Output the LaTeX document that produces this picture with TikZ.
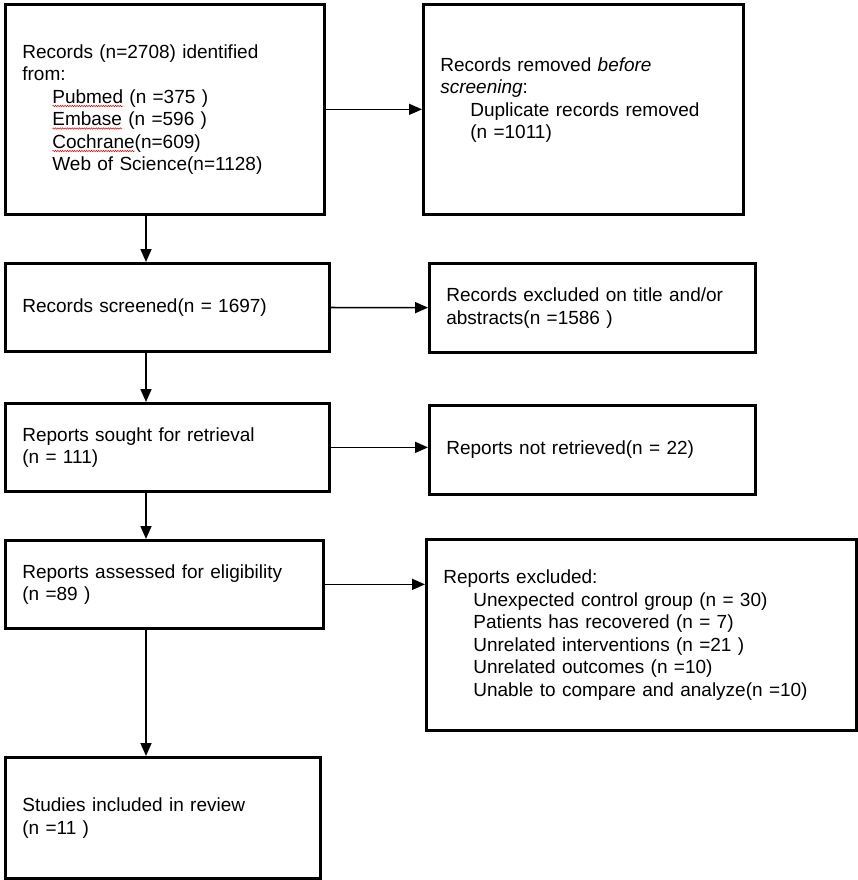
\documentclass[tikz,border=0pt]{standalone}
\usepackage{fontspec}
\setmainfont{Liberation Sans}
\usetikzlibrary{arrows.meta,decorations.pathmorphing}

% красная волнистая черта (проверка орфографии)
\newcommand{\spellmark}[1]{\setbox0\hbox{#1}\rlap{\tikz[overlay,baseline=0pt]
  \draw[red, line width=0.5pt, decorate, decoration={snake,amplitude=0.7pt,segment length=2.4pt}]
  (0pt,-3pt) -- (\wd0,-3pt);}\box0\relax}

\tikzset{
  flowbox/.style={draw=black, line width=2.7pt, anchor=north west, align=left,
    inner xsep=17pt, inner ysep=0pt, font=\fontsize{19}{22.5}\selectfont},
  flowarrow/.style={line width=1.6pt, -{Triangle[length=13pt,width=11pt]}}
}

\begin{document}
\begin{tikzpicture}[x=1pt,y=-1pt]
  \useasboundingbox (0,0) rectangle (858,880); % поля как у оригинала
  \node[flowbox, minimum width=319pt, minimum height=210pt, text width=285pt] (ident) at (4,3)
    {Records (n=2708) identified\\from:\\
     \hspace*{30pt}\spellmark{Pubmed} (n =375 )\\
     \hspace*{30pt}\spellmark{Embase} (n =596 )\\
     \hspace*{30pt}\spellmark{Cochrane}(n=609)\\
     \hspace*{30pt}Web of Science(n=1128)};
  \node[flowbox, minimum width=320pt, minimum height=210pt, text width=286pt] (removed) at (422,3)
    {Records removed \textit{before}\\\textit{screening}:\\
     \hspace*{30pt}Duplicate records removed\\
     \hspace*{30pt}(n =1011)\\~};
  \node[flowbox, minimum width=324pt, minimum height=88pt, text width=290pt] (screened) at (4,262)
    {Records screened(n = 1697)};
  \node[flowbox, minimum width=326pt, minimum height=89pt, text width=292pt] (titleexcl) at (428,262)
    {Records excluded on title and/or\\abstracts(n =1586 )};
  \node[flowbox, minimum width=324pt, minimum height=88pt, text width=290pt] (sought) at (4,402)
    {Reports sought for retrieval\\(n = 111)};
  \node[flowbox, minimum width=326pt, minimum height=89pt, text width=292pt] (notretr) at (428,404)
    {Reports not retrieved(n = 22)};
  \node[flowbox, minimum width=318pt, minimum height=88pt, text width=284pt] (assessed) at (4,539)
    {Reports assessed for eligibility\\(n =89 )};
  \node[flowbox, minimum width=430pt, minimum height=191pt, text width=396pt] (repexcl) at (425,538)
    {Reports excluded:\\
     \hspace*{30pt}Unexpected control group (n = 30)\\
     \hspace*{30pt}Patients has recovered (n = 7)\\
     \hspace*{30pt}Unrelated interventions (n =21 )\\
     \hspace*{30pt}Unrelated outcomes (n =10)\\
     \hspace*{30pt}Unable to compare and analyze(n =10)};
  \node[flowbox, minimum width=315pt, minimum height=121pt, text width=281pt] (included) at (4,756)
    {Studies included in review\\(n =11 )};

  % стрелки вправо
  \draw[flowarrow] (ident) -- (removed);
  \draw[flowarrow] (screened) -- (titleexcl);
  \draw[flowarrow] (sought.east) -- (sought.east -| notretr.west);
  \draw[flowarrow] (assessed.east) -- (assessed.east -| repexcl.west);
  % стрелки вниз
  \foreach \a/\b in {ident/screened, screened/sought, sought/assessed, assessed/included}
    \draw[flowarrow] ([xshift=142pt]\a.south west) -- ([xshift=142pt]\b.north west);
\end{tikzpicture}
\end{document}
